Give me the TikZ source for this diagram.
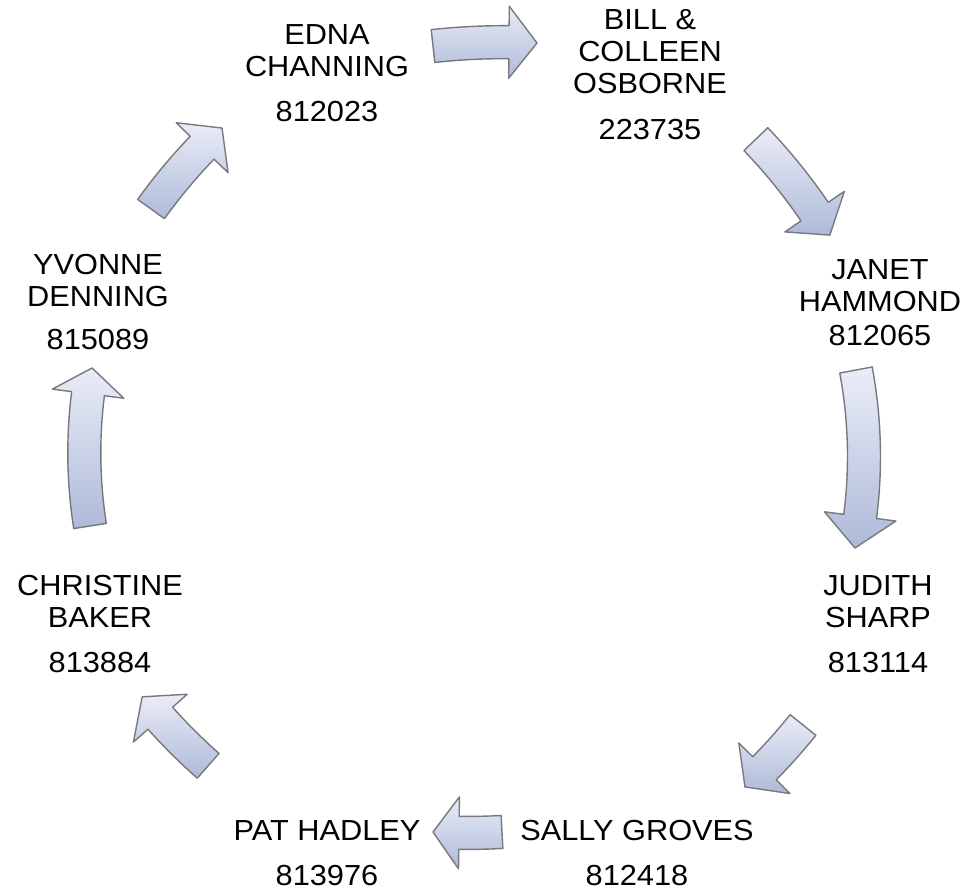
\documentclass[tikz,border=0pt]{standalone}
\usepackage{fontspec}
\setmainfont{Liberation Sans}[FakeStretch=1.06]
\definecolor{arrtop}{RGB}{234,237,247}
\definecolor{arrbot}{RGB}{174,186,217}
\definecolor{arredge}{RGB}{120,120,126}
\newcommand\plines[1]{\vtop{\halign{\hfil##\hfil\cr#1\crcr}}}
\def\aw{16.5}
\def\ahw{36}
% \cyclearrow{tail x}{tail y}{tip x}{tip y}{bend radius}{head length}
\newcommand\cyclearrow[6]{%
  \begin{scope}
  \pgfmathsetmacro\ddx{#3-#1}
  \pgfmathsetmacro\ddy{#4-#2}
  \pgfmathsetmacro\cc{veclen(\ddx,\ddy)}
  \pgfmathsetmacro\ux{\ddx/\cc}
  \pgfmathsetmacro\uy{\ddy/\cc}
  \pgfmathsetmacro\dd{#5*sqrt(1-(\cc/(2*#5))^2)}
  \pgfmathsetmacro\ox{(#1+#3)/2-\uy*\dd}
  \pgfmathsetmacro\oy{(#2+#4)/2+\ux*\dd}
  \pgfmathsetmacro\aone{atan2(#2-\oy,#1-\ox)}
  \pgfmathsetmacro\atwo{atan2(#4-\oy,#3-\ox)}
  \pgfmathsetmacro\atwo{\atwo<\aone ? \atwo+360 : \atwo}
  \pgfmathsetmacro\ah{\atwo-(#6)/(#5)*180/pi}
  \pgfmathsetmacro\ra{#5+\aw}
  \pgfmathsetmacro\rb{#5-\aw}
  \pgfmathsetmacro\rc{#5+\ahw}
  \pgfmathsetmacro\rd{#5-\ahw}
  \path[cyclearrowstyle]
    plot[variable=\t,domain=\aone:\ah,samples=16] ({\ox+\ra*cos(\t)},{\oy+\ra*sin(\t)})
    -- ({\ox+\rc*cos(\ah)},{\oy+\rc*sin(\ah)})
    -- ({\ox+#5*cos(\atwo)},{\oy+#5*sin(\atwo)})
    -- ({\ox+\rd*cos(\ah)},{\oy+\rd*sin(\ah)})
    -- plot[variable=\t,domain=\ah:\aone,samples=16] ({\ox+\rb*cos(\t)},{\oy+\rb*sin(\t)})
    -- cycle;
  \end{scope}}
\begin{document}
\begin{tikzpicture}[x=1pt,y=-1pt,
  person/.style={anchor=base,inner sep=0pt,font=\fontsize{29}{32}\selectfont},
  cyclearrowstyle/.style={top color=arrtop,bottom color=arrbot,draw=arredge,line width=1.4pt,line join=round}]
\useasboundingbox (0,0) rectangle (966,890);
\node[person] (edna) at (327,45) {\plines{EDNA\cr CHANNING\cr\noalign{\vskip13pt}812023}};
\node[person] (bill) at (650,30) {\plines{BILL \&\cr COLLEEN\cr OSBORNE\cr\noalign{\vskip14pt}223735}};
\node[person] (janet) at (880,280) {\plines{JANET\cr HAMMOND\cr\noalign{\vskip2pt}812065}};
\node[person] (judith) at (878,595) {\plines{JUDITH\cr SHARP\cr\noalign{\vskip13pt}813114}};
\node[person] (sally) at (637,840) {\plines{SALLY GROVES\cr\noalign{\vskip13pt}812418}};
\node[person] (pat) at (327,840) {\plines{PAT HADLEY\cr\noalign{\vskip13pt}813976}};
\node[person] (christine) at (100,595) {\plines{CHRISTINE\cr BAKER\cr\noalign{\vskip13pt}813884}};
\node[person] (yvonne) at (98,275) {\plines{YVONNE\cr DENNING\cr\noalign{\vskip11pt}815089}};
\cyclearrow{433}{46}{537}{43}{650}{28}
\cyclearrow{756}{139}{830}{235}{560}{28}
\cyclearrow{856}{370}{855}{548}{470}{32}
\cyclearrow{803}{725}{745}{787}{560}{27}
\cyclearrow{502}{832}{433}{832}{650}{26}
\cyclearrow{208}{766}{142}{697}{560}{28}
\cyclearrow{90}{526}{92}{368}{470}{26}
\cyclearrow{151}{209}{222}{128}{560}{28}
\end{tikzpicture}
\end{document}
